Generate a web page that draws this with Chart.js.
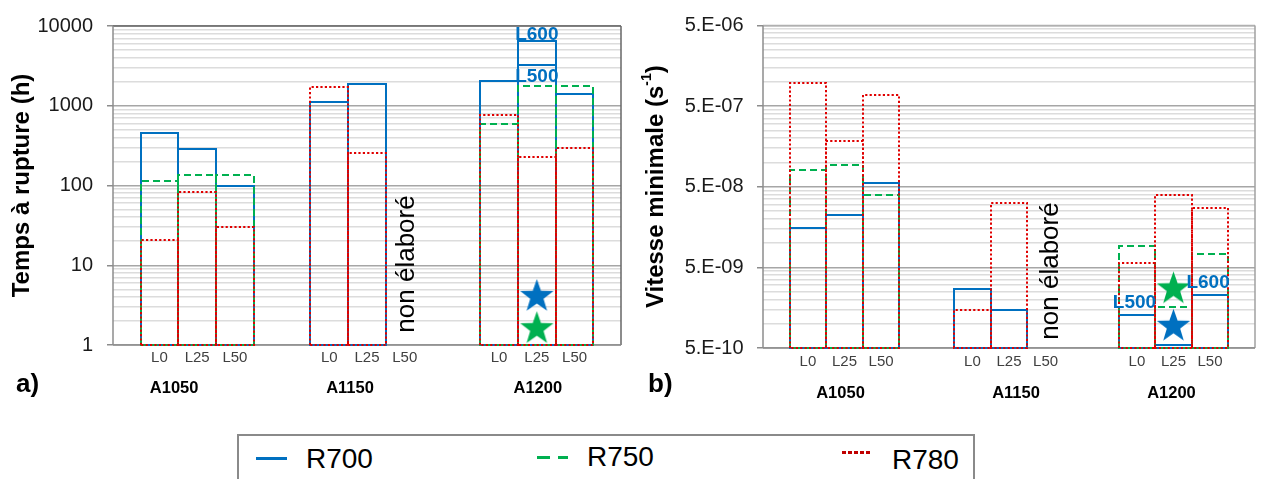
<!DOCTYPE html>
<html lang="fr">
<head>
<meta charset="utf-8">
<title>Temps à rupture et vitesse minimale</title>
<script src="https://cdn.jsdelivr.net/npm/chart.js@4.4.1/dist/chart.umd.min.js"></script>
<style>
  html, body { margin: 0; padding: 0; background: #fff; }
  #page { position: relative; width: 1274px; height: 479px; overflow: hidden; font-family: 'Liberation Sans', Arial, sans-serif; }
  #page canvas { position: absolute; top: 0; }
  #chartA { left: 0; }
  #chartB { left: 640px; }
  .lg-box { position: absolute; left: 237px; top: 434px; width: 738px; height: 70px; border: 2px solid #8a8a8a; box-sizing: border-box; }
  .lg-mark { position: absolute; height: 3px; }
  .lg-text { position: absolute; font-size: 28px; line-height: 28px; color: #000; }
</style>
</head>
<body>
<div id="page">
  <canvas id="chartA" width="640" height="420"></canvas>
  <canvas id="chartB" width="634" height="420"></canvas>
  <div class="lg-box"></div>
  <span class="lg-mark" style="left:256px;top:457px;width:31px;background:#0070C0"></span>
  <span class="lg-text" style="left:306px;top:445px">R700</span>
  <span class="lg-mark" style="left:537px;top:456px;width:31px;background:repeating-linear-gradient(90deg,#00B050 0 13px,transparent 13px 21px)"></span>
  <span class="lg-text" style="left:587px;top:443px">R750</span>
  <span class="lg-mark" style="left:842px;top:451px;width:30px;background:repeating-linear-gradient(90deg,#C00000 0 3.5px,transparent 3.5px 6px)"></span>
  <span class="lg-text" style="left:892px;top:446px">R780</span>
</div>
<script>
// catégories : 3 alliages × 3 niveaux, une valeur par case (null = pas d'essai)
var groups = ['A1050', 'A1150', 'A1200'];
var levels = ['L0', 'L25', 'L50'];

// a) temps à rupture (h)
var ruptR700 = [460, 286, 99, 1110, 1850, null, 2050, 6400, 1390];
var ruptR700L500 = [null, null, null, null, null, null, null, 3240, null];
var ruptR750 = [115, 134, 134, null, null, null, 590, 1780, 1780];
var ruptR780 = [21, 82, 30, 1700, 258, null, 775, 228, 295];
var ruptStarR700 = [null, null, null, null, null, null, null, 4.05, null];
var ruptStarR750 = [null, null, null, null, null, null, null, 1.6, null];
var ruptTicks = [1, 10, 100, 1000, 10000];
var ruptTickLabels = ['1', '10', '100', '1000', '10000'];

// b) vitesse minimale (s-1)
var vitR700 = [1.52e-8, 2.2e-8, 5.5e-8, 2.7e-9, 1.47e-9, null, 1.3e-9, 5.4e-10, 2.3e-9];
var vitR750 = [8.1e-8, 9.4e-8, 4.0e-8, null, null, null, 9.1e-9, 1.6e-9, 7.4e-9];
var vitR780 = [9.6e-7, 1.82e-7, 6.9e-7, 1.5e-9, 3.1e-8, null, 5.6e-9, 3.95e-8, 2.7e-8];
var vitStarR700 = [null, null, null, null, null, null, null, 9.3e-10, null];
var vitStarR750 = [null, null, null, null, null, null, null, 2.7e-9, null];
var vitTicks = [5e-10, 5e-9, 5e-8, 5e-7, 5e-6];
var vitTickLabels = ['5.E-10', '5.E-09', '5.E-08', '5.E-07', '5.E-06'];

var notDoneSlot = 5; // A1150 L50
var notDoneText = 'non élaboré';

// repères L500 / L600 (texte, case, série portant la valeur)
var ruptNotes = [{ text: 'L600', slot: 7, series: ruptR700 }, { text: 'L500', slot: 7, series: ruptR700L500 }];
var vitNotes = [{ text: 'L500', slot: 6, series: vitR700 }, { text: 'L600', slot: 8, series: vitR700 }];

(function () {
  var FONT = "'Liberation Sans', Arial, sans-serif";
  var C_R700 = '#0070C0', C_R750 = '#00B050', C_R780 = '#E00000';
  var GROUP_STEP = 4.5; // 3 cases + 1,5 case d'écart
  var nSlots = groups.length * levels.length;

  function slotPos(i) { return Math.floor(i / levels.length) * GROUP_STEP + (i % levels.length); }
  var slotPositions = [];
  for (var i = 0; i < nSlots; i++) slotPositions.push(slotPos(i));

  function pts(arr) {
    return arr.map(function (v, i) { return v == null ? null : { x: slotPos(i), y: v }; })
      .filter(function (p) { return p; });
  }

  function logTicks(majors) {
    var t = [];
    majors.forEach(function (m, i) {
      t.push({ value: m, major: true });
      if (i < majors.length - 1) for (var k = 2; k <= 9; k++) t.push({ value: m * k, major: false });
    });
    return t;
  }

  function starImage(r, color) {
    var c = document.createElement('canvas');
    var s = Math.ceil(2 * r + 4);
    c.width = s; c.height = s;
    var g = c.getContext('2d');
    g.translate(s / 2, s / 2);
    g.beginPath();
    for (var k = 0; k < 10; k++) {
      var rad = k % 2 ? r * 0.4 : r;
      var ang = -Math.PI / 2 + k * Math.PI / 5;
      g.lineTo(rad * Math.cos(ang), rad * Math.sin(ang));
    }
    g.closePath();
    g.fillStyle = color;
    g.fill();
    return c;
  }

  function barSet(label, arr, color, dash, order) {
    return {
      label: label, data: pts(arr), grouped: false, order: order,
      backgroundColor: 'rgba(0,0,0,0)', borderWidth: 0,
      barPercentage: 1, categoryPercentage: 1,
      outline: { color: color, width: 2, dash: dash }
    };
  }

  function starSet(arr, color) {
    return { type: 'scatter', data: pts(arr), order: 0, pointStyle: starImage(17.5, color), pointRadius: 18 };
  }

  function decorPlugin(d) {
    return {
      id: 'decor',
      beforeDatasetsDraw: function (chart) {
        var ctx = chart.ctx, a = chart.chartArea, f = d.frame;
        function seg(x1, y1, x2, y2, col) {
          ctx.strokeStyle = col; ctx.beginPath(); ctx.moveTo(x1, y1); ctx.lineTo(x2, y2); ctx.stroke();
        }
        ctx.save();
        ctx.lineWidth = 1.5;
        seg(a.left, a.top, a.right, a.top, f.top);
        seg(a.right, a.top, a.right, a.bottom, f.right);
        seg(a.left, a.top, a.left, a.bottom, f.left);
        seg(a.left, a.bottom, a.right, a.bottom, f.bottom);
        ctx.restore();
      },
      // contour des barres (pointillés impossibles avec la bordure native)
      afterDatasetDraw: function (chart, args) {
        var meta = args.meta;
        if (meta.type !== 'bar') return;
        var o = chart.data.datasets[args.index].outline;
        var ctx = chart.ctx;
        ctx.save();
        ctx.strokeStyle = o.color;
        ctx.lineWidth = o.width;
        ctx.setLineDash(o.dash);
        meta.data.forEach(function (el) {
          var p = el.getProps(['x', 'y', 'base', 'width'], true);
          if (!isFinite(p.y)) return;
          var l = Math.round(p.x - p.width / 2), r = Math.round(p.x + p.width / 2);
          var t = Math.round(p.y), b = Math.round(p.base);
          ctx.beginPath();
          ctx.moveTo(l, b); ctx.lineTo(l, t); ctx.lineTo(r, t); ctx.lineTo(r, b); ctx.closePath();
          ctx.stroke();
        });
        ctx.restore();
      },
      afterDraw: function (chart) {
        var ctx = chart.ctx, a = chart.chartArea, xs = chart.scales.x, ys = chart.scales.y;
        ctx.save();
        ctx.fillStyle = '#000';
        ctx.textAlign = 'center';
        ctx.textBaseline = 'alphabetic';
        ctx.font = 'bold 16.5px ' + FONT;
        groups.forEach(function (g, gi) {
          var x = xs.getPixelForValue(slotPos(gi * levels.length + 1)) + d.groupDx[gi];
          ctx.fillText(g, x, a.bottom + d.groupDy);
        });

        ctx.textAlign = 'left';
        ctx.font = 'bold 26px ' + FONT;
        ctx.fillText(d.letter, d.letterX, d.letterY);

        ctx.save();
        ctx.translate(xs.getPixelForValue(slotPos(notDoneSlot)) + d.ndDx, a.bottom - d.ndUp);
        ctx.rotate(-Math.PI / 2);
        ctx.font = '26px ' + FONT;
        ctx.textAlign = 'center';
        ctx.textBaseline = 'middle';
        ctx.fillText(notDoneText, 0, 0);
        ctx.restore();

        ctx.font = 'bold 19px ' + FONT;
        ctx.fillStyle = C_R700;
        ctx.textAlign = 'center';
        d.notes.forEach(function (n, k) {
          var x = xs.getPixelForValue(slotPos(n.slot)) + d.noteOff[k][0];
          var y = ys.getPixelForValue(n.series[n.slot]) + d.noteOff[k][1];
          ctx.fillText(n.text, x, y);
        });

        if (d.titleParts) {
          ctx.save();
          ctx.translate(d.titleX, (a.top + a.bottom) / 2);
          ctx.rotate(-Math.PI / 2);
          ctx.fillStyle = '#000';
          ctx.textAlign = 'left';
          ctx.textBaseline = 'middle';
          var total = 0;
          d.titleParts.forEach(function (p) { ctx.font = p.font + ' ' + FONT; total += ctx.measureText(p.text).width; });
          var x0 = -total / 2;
          d.titleParts.forEach(function (p) {
            ctx.font = p.font + ' ' + FONT;
            ctx.fillText(p.text, x0, p.dy);
            x0 += ctx.measureText(p.text).width;
          });
          ctx.restore();
        }
        ctx.restore();
      }
    };
  }

  function makeChart(id, cfg) {
    var pad = 0.73;
    return new Chart(document.getElementById(id), {
      type: 'bar',
      data: { datasets: cfg.datasets },
      options: {
        responsive: false,
        animation: false,
        events: [],
        layout: { padding: cfg.padding },
        plugins: { legend: { display: false }, tooltip: { enabled: false } },
        scales: {
          x: {
            type: 'linear',
            offset: false,
            min: slotPositions[0] - 0.5 - pad,
            max: slotPositions[nSlots - 1] + 0.5 + pad,
            grid: { display: false, drawTicks: false },
            border: { display: false },
            afterBuildTicks: function (s) { s.ticks = slotPositions.map(function (p) { return { value: p }; }); },
            afterFit: function (s) { s.height = cfg.xHeight; },
            ticks: {
              autoSkip: false, maxRotation: 0, padding: cfg.xPad, color: '#404040',
              font: { family: FONT, size: 15 },
              callback: function (v, i) { return levels[i % levels.length]; }
            }
          },
          y: {
            type: 'logarithmic',
            min: cfg.majors[0],
            max: cfg.majors[cfg.majors.length - 1],
            border: { display: false },
            afterBuildTicks: function (s) { s.ticks = logTicks(cfg.majors); },
            afterFit: function (s) { s.width = cfg.yWidth; },
            grid: {
              lineWidth: 1.5,
              color: function (c) { return c.tick && c.tick.major ? '#a6a6a6' : '#dcdcdc'; },
              tickLength: 6,
              tickColor: function (c) { return c.tick && c.tick.major ? '#8c8c8c' : 'rgba(0,0,0,0)'; }
            },
            ticks: {
              autoSkip: false, padding: cfg.yPad, color: '#1a1a1a',
              font: { family: FONT, size: 20 },
              callback: function (v, i, ticks) {
                if (!ticks[i].major) return '';
                for (var j = 0; j < cfg.majors.length; j++) {
                  if (Math.abs(v / cfg.majors[j] - 1) < 1e-6) return cfg.tickLabels[j];
                }
                return '';
              }
            },
            title: cfg.title
          }
        }
      },
      plugins: [decorPlugin(cfg.decor)]
    });
  }

  makeChart('chartA', {
    datasets: [
      starSet(ruptStarR750, C_R750),
      starSet(ruptStarR700, C_R700),
      barSet('R780', ruptR780, C_R780, [2.2, 2.2], 1),
      barSet('R750', ruptR750, C_R750, [7, 4], 2),
      barSet('R700', ruptR700, C_R700, [], 3),
      barSet('R700 L500', ruptR700L500, C_R700, [], 3)
    ],
    padding: { top: 21, right: 11, left: 0, bottom: 0 },
    xHeight: 75, xPad: 4, yWidth: 113, yPad: 14,
    majors: ruptTicks, tickLabels: ruptTickLabels,
    title: {
      display: true, text: 'Temps à rupture (h)', color: '#000',
      font: { family: FONT, size: 24, weight: 'bold' }, padding: { top: 8, bottom: 0 }
    },
    decor: {
      frame: { top: '#666666', right: '#666666', left: '#8c8c8c', bottom: '#8c8c8c' },
      groupDx: [-23, -17, 1], groupDy: 48,
      letter: 'a)', letterX: 16, letterY: 392,
      ndDx: 2, ndUp: 81,
      notes: ruptNotes, noteOff: [[0, -1], [0, 17]]
    }
  });

  makeChart('chartB', {
    datasets: [
      starSet(vitStarR750, C_R750),
      starSet(vitStarR700, C_R700),
      barSet('R780', vitR780, C_R780, [2.2, 2.2], 1),
      barSet('R750', vitR750, C_R750, [7, 4], 2),
      barSet('R700', vitR700, C_R700, [], 3)
    ],
    padding: { top: 20, right: 1, left: 0, bottom: 0 },
    xHeight: 72, xPad: 5, yWidth: 123, yPad: 13.4,
    majors: vitTicks, tickLabels: vitTickLabels,
    title: { display: false },
    decor: {
      frame: { top: '#b0b0b0', right: '#a0a0a0', left: '#8c8c8c', bottom: '#8c8c8c' },
      groupDx: [-4, 7, -2], groupDy: 50,
      letter: 'b)', letterX: 8, letterY: 392,
      ndDx: 5, ndUp: 77,
      notes: vitNotes, noteOff: [[-2.5, -7], [-2, -7]],
      titleX: 16,
      titleParts: [
        { text: 'Vitesse minimale (s', font: 'bold 24px', dy: 0 },
        { text: '-1', font: 'bold 14px', dy: -9 },
        { text: ')', font: 'bold 24px', dy: 0 }
      ]
    }
  });
})();
</script>
</body>
</html>
